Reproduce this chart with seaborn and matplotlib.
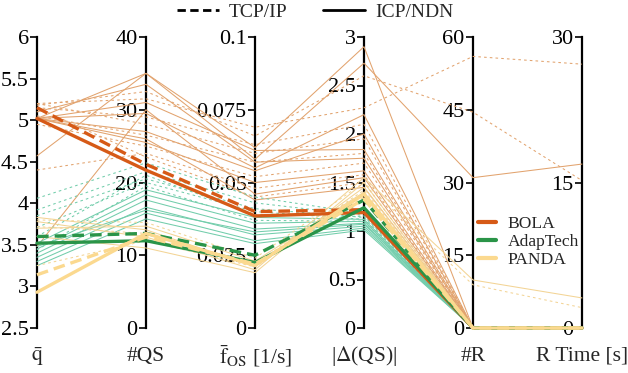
import numpy as np
import pandas as pd
import seaborn as sns
import matplotlib.pyplot as plt
from matplotlib.lines import Line2D

# axes of the parallel-coordinates chart
axis_labels = [r"$\bar{\mathrm{q}}$", "#QS", r"$\bar{\mathrm{f}}_{\mathrm{OS}}$ [1/s]",
               r"|$\Delta$(QS)|", "#R", "R Time [s]"]
axis_lo = [2.5, 0, 0, 0, 0, 0]
axis_hi = [6, 40, 0.1, 3, 60, 30]
axis_ticks = [[2.5, 3, 3.5, 4, 4.5, 5, 5.5, 6],
              [0, 10, 20, 30, 40],
              [0, 0.025, 0.05, 0.075, 0.1],
              [0, 0.5, 1, 1.5, 2, 2.5, 3],
              [0, 15, 30, 45, 60],
              [0, 15, 30]]
axis_ticklabels = [["2.5", "3", "3.5", "4", "4.5", "5", "5.5", "6"],
                   ["0", "10", "20", "30", "40"],
                   ["0", "0.025", "0.05", "0.075", "0.1"],
                   ["0", "0.5", "1", "1.5", "2", "2.5", "3"],
                   ["0", "15", "30", "45", "60"],
                   ["0", "15", "30"]]

# single runs: [q, #QS, f_OS, |d(QS)|, #R, R time]
bola_icp = [[5.02, 35.0, 0.062, 2.90, 0, 0],
            [4.57, 35.0, 0.058, 2.73, 31, 16.9],
            [5.02, 31.0, 0.061, 1.84, 0, 0],
            [5.02, 29.5, 0.055, 2.20, 0, 0],
            [5.02, 27.0, 0.054, 2.00, 0, 0],
            [5.02, 25.5, 0.050, 1.62, 0, 0],
            [3.48, 30.0, 0.046, 1.55, 0, 0],
            [5.02, 26.0, 0.044, 1.45, 0, 0],
            [5.10, 33.5, 0.057, 1.75, 0, 0]]
bola_tcp = [[5.20, 31.5, 0.069, 2.27, 56, 27.2],
            [5.18, 32.5, 0.066, 2.60, 44.5, 15.2],
            [5.15, 29.0, 0.063, 2.10, 0, 0],
            [5.20, 28.0, 0.060, 1.95, 0, 0],
            [5.05, 26.5, 0.057, 1.80, 0, 0],
            [4.95, 25.0, 0.052, 1.70, 0, 0],
            [4.40, 24.0, 0.048, 1.58, 0, 0],
            [5.15, 23.5, 0.045, 1.50, 0, 0]]
adap_icp = [[3.52, 19.0, 0.038, 1.12, 0, 0],
            [3.45, 18.3, 0.036, 1.10, 0, 0],
            [3.40, 17.6, 0.034, 1.08, 0, 0],
            [3.35, 16.6, 0.032, 1.05, 0, 0],
            [3.30, 15.8, 0.030, 1.03, 0, 0],
            [3.25, 15.0, 0.029, 1.01, 0, 0],
            [3.48, 16.2, 0.033, 1.07, 0, 0]]
adap_tcp = [[4.06, 22.7, 0.045, 1.18, 0, 0],
            [3.92, 21.5, 0.043, 1.16, 0, 0],
            [3.85, 20.5, 0.041, 1.14, 0, 0],
            [3.71, 20.0, 0.040, 1.12, 0, 0],
            [3.44, 19.5, 0.037, 1.10, 0, 0],
            [3.60, 21.0, 0.039, 1.15, 0, 0]]
panda_icp = [[3.83, 13.5, 0.021, 1.45, 0, 0],
             [3.78, 12.5, 0.020, 1.55, 9.9, 3.1],
             [3.70, 14.0, 0.023, 1.40, 0, 0],
             [3.60, 11.0, 0.019, 1.50, 0, 0]]
panda_tcp = [[3.80, 14.5, 0.024, 1.50, 8.9, 2.1],
             [3.72, 13.0, 0.022, 1.42, 0, 0],
             [3.25, 12.0, 0.021, 1.35, 0, 0]]

# mean lines
bola_icp_mean = [5.02, 21.7, 0.0385, 1.19, 0, 0]
bola_tcp_mean = [5.15, 22.5, 0.0400, 1.22, 0, 0]
adap_icp_mean = [3.52, 12.0, 0.0225, 1.24, 0, 0]
adap_tcp_mean = [3.60, 13.0, 0.0250, 1.32, 0, 0]
panda_icp_mean = [2.93, 13.0, 0.0215, 1.38, 0, 0]
panda_tcp_mean = [3.14, 12.5, 0.0220, 1.33, 0, 0]

algos = ["BOLA", "AdapTech", "PANDA"]
thin_colors = {"BOLA": "#e2a36e", "AdapTech": "#72cdab", "PANDA": "#f3d495"}
thick_colors = {"BOLA": "#d65a17", "AdapTech": "#2a9448", "PANDA": "#fbd98f"}


def to_long(groups, kind):
    rows = []
    for (algo, proto), runs in groups.items():
        for r, vals in enumerate(runs):
            for i, v in enumerate(vals):
                rows.append({"axis": i,
                             "norm": (v - axis_lo[i]) / (axis_hi[i] - axis_lo[i]),
                             "run": f"{kind}-{algo}-{proto}-{r}",
                             "algo": algo, "proto": proto})
    return pd.DataFrame(rows)


thin = to_long({("BOLA", "ICP/NDN"): bola_icp, ("BOLA", "TCP/IP"): bola_tcp,
                ("AdapTech", "ICP/NDN"): adap_icp, ("AdapTech", "TCP/IP"): adap_tcp,
                ("PANDA", "ICP/NDN"): panda_icp, ("PANDA", "TCP/IP"): panda_tcp}, "thin")
means = to_long({("BOLA", "ICP/NDN"): [bola_icp_mean], ("BOLA", "TCP/IP"): [bola_tcp_mean],
                 ("AdapTech", "ICP/NDN"): [adap_icp_mean], ("AdapTech", "TCP/IP"): [adap_tcp_mean],
                 ("PANDA", "ICP/NDN"): [panda_icp_mean], ("PANDA", "TCP/IP"): [panda_tcp_mean]}, "mean")

sns.set_theme(style="white")
plt.rcParams["font.family"] = ["Liberation Serif", "DejaVu Serif"]
plt.rcParams["mathtext.fontset"] = "stix"

fig = plt.figure(figsize=(6.28, 3.73), dpi=100)
left, bottom, width, height = 37 / 628, 1 - 328 / 373, 545 / 628, 291 / 373

# vertical axes with their own scales
for i in range(6):
    vx = fig.add_axes([left + width * i / 5, bottom, 1e-5, height], zorder=1)
    vx.set_ylim(axis_lo[i], axis_hi[i])
    vx.set_xticks([])
    vx.set_yticks(axis_ticks[i])
    vx.set_yticklabels(axis_ticklabels[i])
    for s in ["top", "right", "bottom"]:
        vx.spines[s].set_visible(False)
    vx.spines["left"].set_linewidth(1.6)
    vx.spines["left"].set_color("black")
    vx.tick_params(axis="y", left=True, length=5, width=1.2, color="black",
                   labelsize=16, pad=1, labelcolor="black")
    vx.patch.set_alpha(0)
    fig.text(left + width * i / 5, 0.045, axis_labels[i], ha="center", va="center",
             fontsize=15.5)

ax = fig.add_axes([left, bottom, width, height], zorder=2)
ax.patch.set_alpha(0)

for algo in algos:
    sub = thin[thin["algo"] == algo]
    sns.lineplot(data=sub, x="axis", y="norm", units="run", estimator=None,
                 style="proto", dashes={"ICP/NDN": "", "TCP/IP": (2.5, 3)},
                 color=thin_colors[algo], linewidth=0.75, legend=False,
                 ax=ax, clip_on=False, sort=False)
for algo in algos:
    sub = means[means["algo"] == algo]
    sns.lineplot(data=sub, x="axis", y="norm", units="run", estimator=None,
                 style="proto", dashes={"ICP/NDN": "", "TCP/IP": (3.5, 1.8)},
                 color=thick_colors[algo], linewidth=2.4, legend=False,
                 ax=ax, clip_on=False, sort=False)

ax.set_xlim(0, 5)
ax.set_ylim(0, 1)
ax.set_axis_off()

proto_handles = [Line2D([], [], color="black", lw=2, dashes=(3, 1.6)),
                 Line2D([], [], color="black", lw=2)]
fig.legend(proto_handles, ["TCP/IP", "ICP/NDN"], loc="center", ncol=2,
           bbox_to_anchor=(0.502, 0.968), frameon=False, fontsize=14,
           handlelength=2.15, handletextpad=0.5, columnspacing=1.85)

algo_handles = [Line2D([], [], color=thick_colors[a], lw=3) for a in algos]
fig.legend(algo_handles, algos, loc="center", bbox_to_anchor=(0.842, 0.351),
           frameon=False, fontsize=12.6, handlelength=1.0, handletextpad=0.7,
           labelspacing=0.1, borderaxespad=0)

fig.savefig("out.png", dpi=100)
